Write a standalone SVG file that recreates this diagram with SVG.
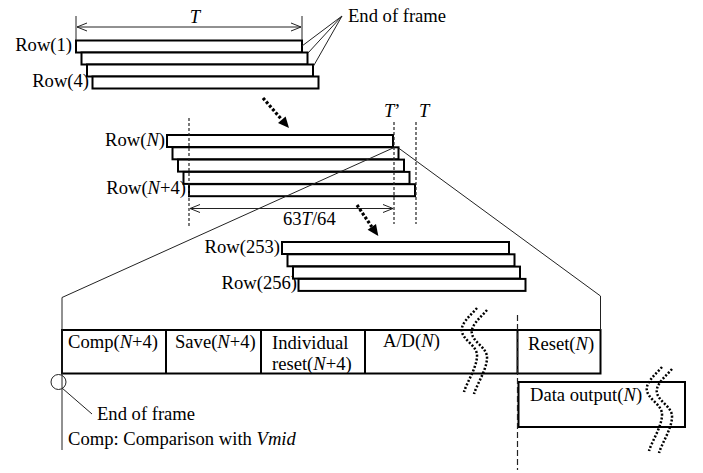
<svg xmlns="http://www.w3.org/2000/svg" width="703" height="473" viewBox="0 0 703 473">
<style>
text{font-family:"Liberation Serif","Times New Roman",serif;font-size:18.6px;fill:#000}
.r{fill:#fff;stroke:#000;stroke-width:2}
.thin{fill:none;stroke:#222;stroke-width:1}
.dash{fill:none;stroke:#222;stroke-width:1.2;stroke-dasharray:3 2}
.ldash{fill:none;stroke:#222;stroke-width:1.2;stroke-dasharray:6 3}
.dot{fill:none;stroke:#000;stroke-width:3.2;stroke-dasharray:2.8 2}
.wave{fill:none;stroke:#000;stroke-width:2.5;stroke-dasharray:2 1.8}
.box{fill:#fff;stroke:#000;stroke-width:2}
</style>
<defs>
<marker id="oa" viewBox="0 0 10 10" refX="10" refY="5" markerWidth="10" markerHeight="10" markerUnits="userSpaceOnUse" orient="auto-start-reverse">
<path d="M0,1 L10,5 L0,9" fill="none" stroke="#222" stroke-width="1"/>
</marker>
<path id="wv" d="M477,308 C470,316 460,324 462,332 C464,341 478,346 477,357 C476,369 467,382 464,392"/>
</defs>

<g id="frame-top">
<rect class="r" x="76" y="40.5" width="226" height="12"/>
<rect class="r" x="81.5" y="52.5" width="226" height="12"/>
<rect class="r" x="87" y="64.5" width="226" height="12"/>
<rect class="r" x="92.5" y="76.5" width="226" height="12"/>
<text x="72" y="51" text-anchor="end">Row(1)</text>
<text x="89" y="87" text-anchor="end">Row(4)</text>
<text x="195" y="23" text-anchor="middle" font-style="italic">T</text>
<text x="348" y="22">End of frame</text>
</g>

<g id="frame-mid">
<rect class="r" x="167" y="135" width="226" height="12"/>
<rect class="r" x="172.5" y="147.3" width="226" height="12"/>
<rect class="r" x="178" y="159.6" width="226" height="12"/>
<rect class="r" x="183.5" y="171.9" width="226" height="12"/>
<rect class="r" x="189" y="184.2" width="226" height="12"/>
<text x="165" y="146" text-anchor="end">Row(<tspan font-style="italic">N</tspan>)</text>
<text x="186" y="194" text-anchor="end">Row(<tspan font-style="italic">N</tspan>+4)</text>
<text x="384" y="117"><tspan font-style="italic">T</tspan>’</text>
<text x="419" y="117" font-style="italic">T</text>
<text x="283" y="225">63<tspan font-style="italic">T</tspan>/64</text>
</g>

<g id="frame-bot">
<rect class="r" x="282" y="242" width="227" height="12"/>
<rect class="r" x="287.5" y="254.3" width="227" height="12"/>
<rect class="r" x="293" y="266.6" width="227" height="12"/>
<rect class="r" x="298.5" y="278.9" width="227" height="12"/>
<text x="280" y="253" text-anchor="end">Row(253)</text>
<text x="297" y="289" text-anchor="end">Row(256)</text>
</g>

<g id="timeline">
<rect class="box" x="62" y="330" width="538.5" height="43.5"/>
<line x1="166" y1="330" x2="166" y2="373.5" stroke="#000" stroke-width="2"/>
<line x1="261" y1="330" x2="261" y2="373.5" stroke="#000" stroke-width="2"/>
<line x1="365" y1="330" x2="365" y2="373.5" stroke="#000" stroke-width="2"/>
<line x1="517.5" y1="330" x2="517.5" y2="373.5" stroke="#000" stroke-width="2"/>
<text x="68" y="348">Comp(<tspan font-style="italic">N</tspan>+4)</text>
<text x="175" y="348">Save(<tspan font-style="italic">N</tspan>+4)</text>
<text x="272" y="349">Individual</text>
<text x="272" y="370">reset(<tspan font-style="italic">N</tspan>+4)</text>
<text x="383" y="347">A/D(<tspan font-style="italic">N</tspan>)</text>
<text x="528" y="350">Reset(<tspan font-style="italic">N</tspan>)</text>
</g>

<g id="data-output">
<rect class="box" x="518.5" y="382" width="166.5" height="45"/>
<text x="530" y="401">Data output(<tspan font-style="italic">N</tspan>)</text>
</g>

<g id="notes">
<circle cx="58.5" cy="382" r="7.5" fill="none" stroke="#222" stroke-width="1"/>
<text x="97" y="420">End of frame</text>
<text x="68" y="445">Comp: Comparison with <tspan font-style="italic">Vmid</tspan></text>
</g>

<g id="connectors">
<line class="thin" x1="76" y1="16" x2="76" y2="40"/>
<line class="thin" x1="302" y1="16" x2="302" y2="40"/>
<line class="thin" x1="77" y1="27" x2="301" y2="27" marker-start="url(#oa)" marker-end="url(#oa)"/>
<line class="thin" x1="342" y1="16" x2="302" y2="46"/>
<line class="thin" x1="342" y1="16" x2="308" y2="53"/>
<line class="thin" x1="342" y1="16" x2="313.5" y2="66"/>

<line class="dash" x1="189" y1="118" x2="189" y2="228"/>
<line class="dash" x1="394" y1="122" x2="394" y2="224"/>
<line class="dash" x1="416" y1="122" x2="416" y2="224"/>
<line class="thin" x1="190" y1="208.5" x2="393" y2="208.5" marker-start="url(#oa)" marker-end="url(#oa)"/>

<line class="dot" x1="263" y1="98" x2="281.8" y2="119.7"/>
<polygon points="289,128 285.6,116.4 278,123" fill="#000"/>
<line class="dot" x1="357" y1="205" x2="371.8" y2="226.9"/>
<polygon points="378.3,236 376,224.1 367.6,229.7" fill="#000"/>

<polyline class="thin" points="393,148 62,297.5 62,450"/>
<polyline class="thin" points="398.5,148 600.5,296 600.5,330"/>
<line class="ldash" x1="517.5" y1="315" x2="517.5" y2="470"/>
<line class="thin" x1="62" y1="388" x2="92" y2="414"/>

<use href="#wv" class="wave"/>
<use href="#wv" class="wave" transform="translate(10,2)"/>
<use href="#wv" class="wave" transform="translate(185,59)"/>
<use href="#wv" class="wave" transform="translate(195,61)"/>
</g>
</svg>
